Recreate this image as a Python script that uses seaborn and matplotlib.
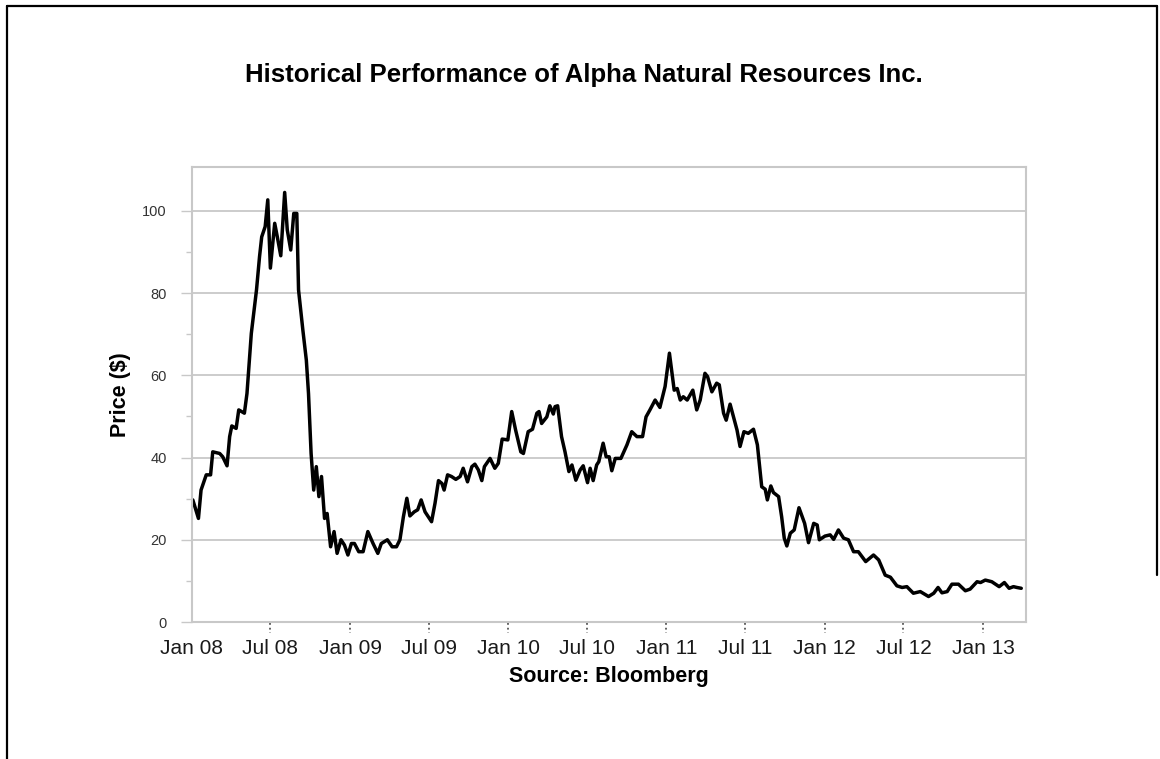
import pandas as pd
import matplotlib.pyplot as plt
import matplotlib.dates as mdates
import matplotlib.transforms as mtransforms
from matplotlib.lines import Line2D
from matplotlib.ticker import MultipleLocator, FixedLocator
import seaborn as sns

# Weekly-ish closing prices, split by year
dates_2008 = ["2008-01-04", "2008-01-17", "2008-01-23", "2008-02-04", "2008-02-14", "2008-02-19",
              "2008-03-06", "2008-03-13", "2008-03-23", "2008-03-29", "2008-04-03", "2008-04-13",
              "2008-04-19", "2008-05-02", "2008-05-08", "2008-05-18", "2008-05-30", "2008-06-06",
              "2008-06-11", "2008-06-19", "2008-06-25", "2008-07-01", "2008-07-11", "2008-07-17",
              "2008-07-25", "2008-08-03", "2008-08-09", "2008-08-17", "2008-08-24", "2008-08-31",
              "2008-09-04", "2008-09-14", "2008-09-22", "2008-09-27", "2008-10-03", "2008-10-09",
              "2008-10-15", "2008-10-21", "2008-10-27", "2008-11-03", "2008-11-09", "2008-11-17",
              "2008-11-25", "2008-12-02", "2008-12-11", "2008-12-19", "2008-12-27"]
prices_2008 = [29.7, 25.2, 32.1, 35.8, 35.8, 41.4,
               41.0, 40.2, 38.0, 45.1, 47.7, 47.1,
               51.6, 50.8, 55.6, 70.2, 80.8, 88.9,
               93.7, 96.2, 102.7, 86.1, 97.0, 93.7,
               89.1, 104.5, 95.4, 90.5, 99.4, 99.4,
               80.8, 71.0, 63.7, 55.6, 41.0, 32.1,
               37.8, 30.5, 35.4, 25.2, 26.4, 18.3,
               22.0, 16.7, 20.0, 18.7, 16.3]

dates_2009 = ["2009-01-04", "2009-01-11", "2009-01-21", "2009-01-31", "2009-02-11", "2009-02-23",
              "2009-03-06", "2009-03-14", "2009-03-28", "2009-04-08", "2009-04-18", "2009-04-26",
              "2009-05-04", "2009-05-12", "2009-05-19", "2009-05-29", "2009-06-06", "2009-06-14",
              "2009-06-23", "2009-07-08", "2009-07-16", "2009-07-24", "2009-08-01", "2009-08-06",
              "2009-08-14", "2009-08-23", "2009-09-02", "2009-09-12", "2009-09-19", "2009-09-29",
              "2009-10-09", "2009-10-16", "2009-10-24", "2009-11-01", "2009-11-07", "2009-11-20",
              "2009-12-01", "2009-12-09", "2009-12-18", "2009-12-31"]
prices_2009 = [19.1, 19.1, 17.1, 17.1, 22.0, 19.1,
               16.7, 19.1, 20.0, 18.3, 18.3, 20.0,
               25.6, 30.1, 25.8, 26.8, 27.3, 29.7,
               26.8, 24.4, 28.9, 34.4, 33.7, 32.1,
               35.8, 35.4, 34.7, 35.4, 37.4, 34.1,
               37.8, 38.4, 37.0, 34.4, 37.8, 39.8,
               37.4, 38.6, 44.5, 44.3]

dates_2010 = ["2010-01-09", "2010-01-18", "2010-01-30", "2010-02-05", "2010-02-16", "2010-02-26",
              "2010-03-08", "2010-03-13", "2010-03-19", "2010-03-31", "2010-04-07", "2010-04-15",
              "2010-04-19", "2010-04-25", "2010-05-04", "2010-05-12", "2010-05-21", "2010-05-28",
              "2010-06-06", "2010-06-16", "2010-06-23", "2010-07-03", "2010-07-09", "2010-07-16",
              "2010-07-24", "2010-07-29", "2010-08-08", "2010-08-15", "2010-08-22", "2010-08-28",
              "2010-09-05", "2010-09-18", "2010-10-02", "2010-10-13", "2010-10-25", "2010-11-07",
              "2010-11-15", "2010-11-24", "2010-12-06", "2010-12-17", "2010-12-29"]
prices_2010 = [51.2, 46.7, 41.4, 41.0, 46.3, 46.9,
               50.8, 51.2, 48.3, 49.9, 52.6, 50.6,
               52.4, 52.6, 45.1, 41.4, 36.6, 38.2,
               34.5, 37.0, 38.0, 33.9, 37.4, 34.4,
               38.2, 39.0, 43.5, 40.2, 40.2, 36.8,
               39.8, 39.8, 43.1, 46.3, 45.1, 45.1,
               49.9, 51.6, 54.0, 52.2, 57.3]

dates_2011 = ["2011-01-08", "2011-01-19", "2011-01-26", "2011-02-02", "2011-02-09", "2011-02-18",
              "2011-03-03", "2011-03-12", "2011-03-20", "2011-03-31", "2011-04-06", "2011-04-16",
              "2011-04-27", "2011-05-03", "2011-05-13", "2011-05-19", "2011-05-28", "2011-06-13",
              "2011-06-20", "2011-06-29", "2011-07-09", "2011-07-21", "2011-07-30", "2011-08-05",
              "2011-08-09", "2011-08-17", "2011-08-22", "2011-08-30", "2011-09-05", "2011-09-17",
              "2011-09-24", "2011-09-30", "2011-10-06", "2011-10-14", "2011-10-23", "2011-11-03",
              "2011-11-16", "2011-11-25", "2011-12-07", "2011-12-15", "2011-12-20"]
prices_2011 = [65.4, 56.4, 56.8, 54.0, 54.8, 54.0,
               56.4, 51.6, 54.0, 60.5, 59.7, 56.0,
               58.1, 57.7, 50.8, 49.1, 53.0, 46.7,
               42.7, 46.3, 45.9, 46.9, 43.1, 37.0,
               32.9, 32.3, 29.7, 33.1, 31.5, 30.5,
               25.6, 20.4, 18.5, 21.6, 22.4, 27.8,
               24.0, 19.3, 24.0, 23.6, 20.0]

dates_2012 = ["2012-01-02", "2012-01-14", "2012-01-22", "2012-02-02", "2012-02-14", "2012-02-25",
              "2012-03-08", "2012-03-19", "2012-04-05", "2012-04-23", "2012-05-05", "2012-05-20",
              "2012-06-01", "2012-06-16", "2012-06-28", "2012-07-09", "2012-07-24", "2012-08-09",
              "2012-08-28", "2012-09-09", "2012-09-19", "2012-09-28", "2012-10-10", "2012-10-21",
              "2012-11-05", "2012-11-21", "2012-12-02", "2012-12-18", "2012-12-26"]
prices_2012 = [20.9, 21.2, 20.1, 22.4, 20.4, 20.0,
               17.1, 17.1, 14.7, 16.3, 15.1, 11.4,
               10.9, 8.8, 8.4, 8.6, 7.0, 7.4,
               6.2, 7.0, 8.4, 7.1, 7.4, 9.2,
               9.2, 7.6, 8.0, 9.8, 9.6]

dates_2013 = ["2013-01-06", "2013-01-21", "2013-02-07", "2013-02-19", "2013-03-02", "2013-03-12",
              "2013-03-20", "2013-03-30"]
prices_2013 = [10.2, 9.8, 8.6, 9.6, 8.2, 8.6,
               8.4, 8.2]

TITLE = "Historical Performance of Alpha Natural Resources Inc."

# Put the years together
all_dates = dates_2008 + dates_2009 + dates_2010 + dates_2011 + dates_2012 + dates_2013
all_prices = prices_2008 + prices_2009 + prices_2010 + prices_2011 + prices_2012 + prices_2013
df = pd.DataFrame({'date': pd.to_datetime(all_dates), 'price': all_prices})

sns.set_theme(style='white')
plt.rcParams['font.family'] = ['Liberation Sans', 'DejaVu Sans']

fig = plt.figure(figsize=(11.6, 7.59), dpi=100)
ax = fig.add_axes([0.1651, 0.1805, 0.7194, 0.5995])

sns.lineplot(data=df, x='date', y='price', color='black', linewidth=2.5,
             estimator=None, ax=ax)

ax.set_xlim(pd.Timestamp('2008-01-01'), pd.Timestamp('2013-04-10'))
ax.set_ylim(0, 110.7)

# y axis: gridlines every 20, small ticks at the odd tens
ax.yaxis.set_major_locator(MultipleLocator(20))
ax.yaxis.set_minor_locator(FixedLocator([10, 30, 50, 70, 90]))
ax.yaxis.grid(True, color='#cccccc', linewidth=1.4)
ax.xaxis.grid(False)
ax.tick_params(axis='y', which='major', left=True, length=8, width=1,
               color='#c8c8c8', pad=10, labelsize=10.5, labelcolor='#333333')
ax.tick_params(axis='y', which='minor', left=True, length=4.5, width=1, color='#c8c8c8')

# x axis: half-year labels, dotted tick marks drawn by hand
ax.xaxis.set_major_locator(mdates.MonthLocator(bymonth=[1, 7]))
ax.xaxis.set_major_formatter(mdates.DateFormatter('%b %y'))
ax.tick_params(axis='x', bottom=False, length=0, pad=12, labelsize=15,
               labelcolor='#1a1a1a')

trans = mtransforms.blended_transform_factory(ax.transData, ax.transAxes)
for tick in ax.get_xticks()[1:]:
    ax.plot([tick, tick], [-0.003, -0.025], transform=trans, color='#555555',
            linestyle=':', linewidth=1.3, clip_on=False)

for spine in ax.spines.values():
    spine.set_visible(True)
    spine.set_color('#c8c8c8')
    spine.set_linewidth(1.5)

ax.set_xlabel('Source: Bloomberg', fontsize=15.5, fontweight='bold', labelpad=6, color='black')
ax.set_ylabel('Price ($)', fontsize=15.5, fontweight='bold', labelpad=8, color='black')

fig.text(0.503, 1 - 82 / 759, TITLE, ha='center', va='baseline',
         fontsize=18.5, fontweight='bold', color='black')

# Black frame round the figure (open at the lower right)
fig.add_artist(Line2D([0.006, 0.006], [0.0, 0.992], color='black', linewidth=1.6,
                      transform=fig.transFigure))
fig.add_artist(Line2D([0.006, 0.9974], [0.992, 0.992], color='black', linewidth=1.6,
                      transform=fig.transFigure))
fig.add_artist(Line2D([0.9974, 0.9974], [0.992, 0.2424], color='black', linewidth=1.6,
                      transform=fig.transFigure))

fig.savefig('out.png', dpi=100)
